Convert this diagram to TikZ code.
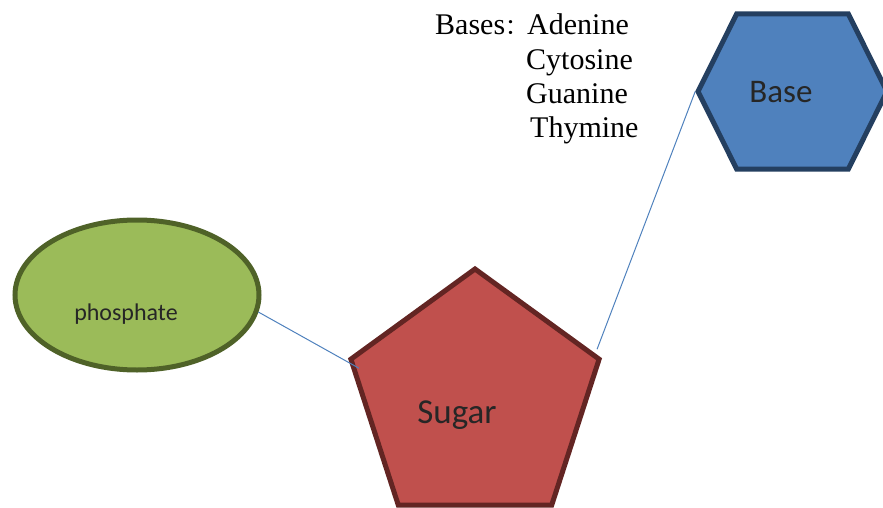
\documentclass[tikz,border=0pt]{standalone}
\usepackage{fontspec}
\setmainfont{Liberation Serif}
\newfontfamily\shapefont{Carlito}
\newfontfamily\cjkfont{Noto Sans CJK SC}
\usetikzlibrary{shapes.geometric, shapes.symbols}

\definecolor{phosfill}{HTML}{9BBB59}
\definecolor{phosedge}{HTML}{4F6228}
\definecolor{sugarfill}{HTML}{C0504D}
\definecolor{sugaredge}{HTML}{632523}
\definecolor{basefill}{HTML}{4F81BD}
\definecolor{baseedge}{HTML}{243F60}
\definecolor{linkblue}{HTML}{4F81BD}

\begin{document}
\begin{tikzpicture}[x=1pt, y=-1pt,
    shapebox/.style={line width=5pt, inner sep=0pt},
    shapetext/.style={anchor=base, text=black!85},
    basename/.style={anchor=base west, inner sep=1pt, font=\fontsize{30}{36}\selectfont},
    link/.style={draw=linkblue, line width=1pt}]
    \useasboundingbox (0,0) rectangle (883,508);

    % Parts of the nucleotide
    \node[shapebox, ellipse, draw=phosedge, fill=phosfill,
        minimum width=244pt, minimum height=150pt] (phosphate) at (137,295) {};
    \node[shapebox, regular polygon, regular polygon sides=5, draw=sugaredge,
        fill=sugarfill, minimum size=261pt] (sugar) at (475,399.5) {};
    \node[shapebox, signal, signal to=west and east, signal pointer angle=127,
        draw=baseedge, fill=basefill, minimum width=189pt, minimum height=155pt] (base) at (792.5,91.5) {};

    \node[shapetext, font=\shapefont\fontsize{24}{29}\selectfont] (phostext) at (126,320) {phosphate};
    \node[shapetext, font=\shapefont\fontsize{35}{42}\selectfont] (sugartext) at (457,423) {Sugar};
    \node[shapetext, font=\shapefont\fontsize{33}{40}\selectfont] (basetext) at (781,103) {Base};

    % Bonds
    \coordinate (sugarin) at ([shift={(11,10)}]sugar.corner 2);
    \coordinate (sugarrim) at ([shift={(-5,-9)}]sugar.corner 5);
    \draw[link] (phosphate.-8) -- (sugarin);
    \draw[link] (sugarrim) -- (base.west);

    % List of the bases
    \node[basename] (bases) at (434,35) {Bases{\cjkfont\fontsize{22}{22}\selectfont ：}Adenine};
    \foreach \name/\x/\y in {Cytosine/525/70, Guanine/525/104, Thymine/529/138} {
        \node[basename] (\name) at (\x,\y) {\name};
    }
\end{tikzpicture}
\end{document}
